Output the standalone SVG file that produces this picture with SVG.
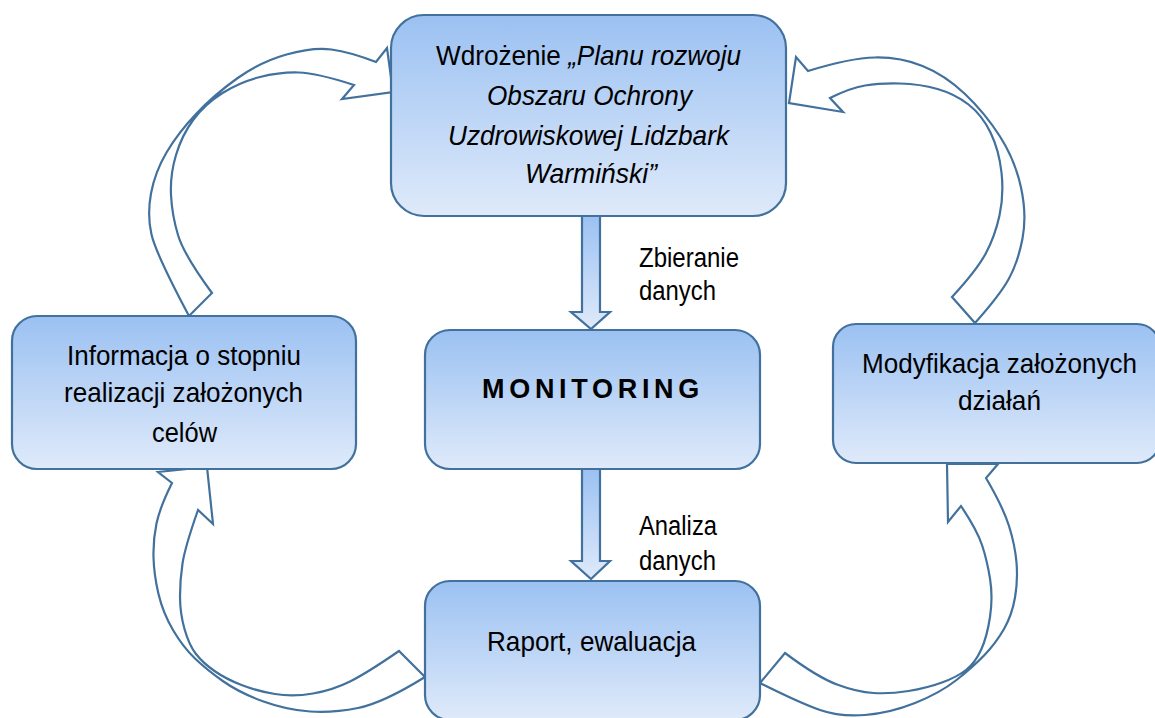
<svg xmlns="http://www.w3.org/2000/svg" width="1155" height="718" viewBox="0 0 1155 718">
<defs>
<linearGradient id="g" x1="0" y1="0" x2="0" y2="1">
<stop offset="0" stop-color="#9bc1f2"/>
<stop offset="1" stop-color="#dfeafa"/>
</linearGradient>
<style>
.node{fill:url(#g);stroke:#41719c;stroke-width:2.2}
.arr{fill:#ffffff;stroke:#41719c;stroke-width:2.2;stroke-linejoin:miter}
.dn{fill:url(#g);stroke:#41719c;stroke-width:2.2}
.t{font-family:"Liberation Sans",Arial,sans-serif;font-size:27.5px;fill:#000}
.lbl{font-family:"Liberation Sans",Arial,sans-serif;font-size:27px;fill:#000}
.it{font-style:italic}
.mon{font-family:"Liberation Sans",Arial,sans-serif;font-size:27px;font-weight:bold;letter-spacing:4.7px;fill:#000}
</style>
</defs>
<rect width="1155" height="718" fill="#ffffff"/>
<g id="connectors">
<path class="arr" d="M189,316 Q156,254 151.5,234.5 Q147,215 151,193.5 Q155,172 166.5,152.5 Q178,133 196,114 Q214,95 237,78.5 Q260,62 286.5,54.5 Q313,47 331.5,49.5 Q350,52 376,62 L387,48 L393,92 L342,99 L354,85 Q317,73 298.5,72.5 Q280,72 260,77 Q240,82 222.5,93 Q205,104 193.5,119.5 Q182,135 176,155 Q170,175 171,195 Q172,215 178,235 Q184,255 212,293 Z"/>
<path class="arr" d="M808,71 Q850,58 875,57.5 Q900,57 922.5,66 Q945,75 965,94 Q985,113 1000,136.5 Q1015,160 1021,187.5 Q1027,215 1022.5,238.5 Q1018,262 1009,278.5 Q1000,295 975,323 L952,297 Q977,270 986,253 Q995,236 999.5,215.5 Q1004,195 1001.5,172.5 Q999,150 990.5,132.5 Q982,115 968.5,104.5 Q955,94 937.5,89 Q920,84 900,83.5 Q880,83 865,85.5 Q850,88 830,98 L843,112 L789,103 L796,57 Z"/>
<path class="arr" d="M172,483 Q160,507 156.5,523.5 Q153,540 153.5,557.5 Q154,575 158.5,594 Q163,613 173,630 Q183,647 195,658.5 Q207,670 223.5,681.5 Q240,693 263.5,701.5 Q287,710 310,711.5 Q333,713 358,708 Q383,703 425,677 L399,651 Q367,673 350,681.5 Q333,690 313,693.5 Q293,697 275,694 Q257,691 241.5,685 Q226,679 214.5,671 Q203,663 196,654 Q189,645 184.5,629 Q180,613 180,596.5 Q180,580 182.5,563.5 Q185,547 198,510 L213,524 L207,467 L158,472 Z"/>
<path class="arr" d="M986,478 Q1003,507 1009,526 Q1015,545 1016.5,562.5 Q1018,580 1015,597.5 Q1012,615 1004,629 Q996,643 984.5,655 Q973,667 956.5,680 Q940,693 915,703 Q890,713 865,715 Q840,717 820,710 Q800,703 760,683 L785,653 Q817,677 837,684.5 Q857,692 873.5,693 Q890,694 908.5,691 Q927,688 942,682.5 Q957,677 966,670 Q975,663 981,650 Q987,637 990,617 Q993,597 990,578.5 Q987,560 982,545 Q977,530 961,506 L948,522 L947,464 L998,464 Z"/>
<polygon class="dn" points="582,216 600,216 600,312 610,312 591,329 571,312 582,312"/>
<polygon class="dn" points="582,469 600,469 600,561 610,561 591,579 571,561 582,561"/>
<text class="lbl" x="639" y="267" textLength="100" lengthAdjust="spacingAndGlyphs">Zbieranie</text>
<text class="lbl" x="639" y="300" textLength="77" lengthAdjust="spacingAndGlyphs">danych</text>
<text class="lbl" x="639" y="535" textLength="78" lengthAdjust="spacingAndGlyphs">Analiza</text>
<text class="lbl" x="639" y="570" textLength="77" lengthAdjust="spacingAndGlyphs">danych</text>
</g>
<g id="node-plan">
<rect class="node" x="391" y="15" width="395" height="201" rx="33" ry="33"/>
<text class="t" x="436" y="65" textLength="305" lengthAdjust="spacingAndGlyphs">Wdrożenie <tspan class="it">„Planu rozwoju</tspan></text>
<text class="t it" x="487" y="105" textLength="205" lengthAdjust="spacingAndGlyphs">Obszaru Ochrony</text>
<text class="t it" x="448" y="145" textLength="281" lengthAdjust="spacingAndGlyphs">Uzdrowiskowej Lidzbark</text>
<text class="t it" x="525" y="183" textLength="132" lengthAdjust="spacingAndGlyphs">Warmiński”</text>
</g>
<g id="node-monitoring">
<rect class="node" x="425" y="330" width="335" height="139" rx="25" ry="25"/>
<text class="mon" x="482" y="398">MONITORING</text>
</g>
<g id="node-info">
<rect class="node" x="12" y="316" width="344" height="153" rx="25" ry="25"/>
<text class="t" x="67" y="365" textLength="234" lengthAdjust="spacingAndGlyphs">Informacja o stopniu</text>
<text class="t" x="64" y="402" textLength="239" lengthAdjust="spacingAndGlyphs">realizacji założonych</text>
<text class="t" x="152" y="442" textLength="65" lengthAdjust="spacingAndGlyphs">celów</text>
</g>
<g id="node-mod">
<rect class="node" x="833" y="324" width="327" height="139" rx="23" ry="23"/>
<text class="t" x="862" y="373" textLength="275" lengthAdjust="spacingAndGlyphs">Modyfikacja założonych</text>
<text class="t" x="958" y="410" textLength="83" lengthAdjust="spacingAndGlyphs">działań</text>
</g>
<g id="node-raport">
<rect class="node" x="425" y="581" width="335" height="139" rx="25" ry="25"/>
<text class="t" x="487" y="651" textLength="209" lengthAdjust="spacingAndGlyphs">Raport, ewaluacja</text>
</g>
</svg>
